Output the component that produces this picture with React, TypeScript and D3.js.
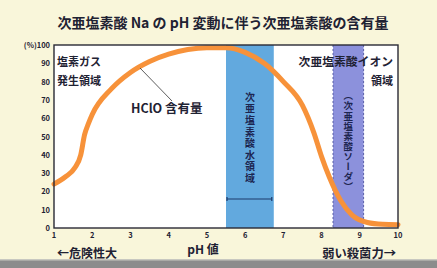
import * as d3 from 'd3';
import { useEffect, useRef } from 'react';

// pH vs HClO content (%)
const PH_VALUES = [1.0, 1.3, 1.55, 1.7, 1.8, 1.9, 2.0, 2.5, 3.0, 3.5, 4.0, 4.5, 5.0, 5.5, 6.0, 6.5, 7.0, 7.5, 7.8, 8.0, 8.2, 8.5, 8.8, 9.2, 9.6, 10.0];
const HCLO_PERCENT = [24, 28, 33, 40, 51, 57, 62, 76, 85, 91, 95, 97.5, 98.5, 98.5, 96, 90, 80, 67, 52, 39, 28, 15, 7, 3, 2, 1.8];

const X_TICKS = [1, 2, 3, 4, 5, 6, 7, 8, 9, 10];
const Y_TICKS = [0, 10, 20, 30, 40, 50, 60, 70, 80, 90, 100];

// shaded regions (pH range)
const WATER_BAND = [5.5, 6.75];
const SODA_BAND = [8.3, 9.1];

const TITLE = '次亜塩素酸 Na の pH 変動に伴う次亜塩素酸の含有量';
const FONT = '"Noto Sans CJK JP", "Noto Sans", sans-serif';
const INK = '#1f2233';

export default function App() {
  const svgRef = useRef<SVGSVGElement>(null);

  useEffect(() => {
    document.body.style.margin = '0';
    if (!svgRef.current) return;
    const W = 437;
    const H = 268;
    const svg = d3.select(svgRef.current);
    svg.selectAll('*').remove();

    const left = 54, right = 398, top = 45, bottom = 228;
    const x = d3.scaleLinear().domain([1, 10]).range([left, right]);
    const y = d3.scaleLinear().domain([0, 100]).range([bottom, top]);

    // background
    svg.append('rect').attr('width', W).attr('height', H).attr('fill', '#f9f6da');
    svg.append('rect').attr('y', 260).attr('width', W).attr('height', 8).attr('fill', '#8c8c8c');
    svg.append('rect').attr('y', 259).attr('width', W).attr('height', 1.5).attr('fill', '#c8c8c0');

    svg
      .append('text')
      .attr('x', 223)
      .attr('y', 28)
      .attr('text-anchor', 'middle')
      .attr('font-family', FONT)
      .attr('font-weight', 'bold')
      .attr('font-size', 14)
      .attr('fill', INK)
      .text(TITLE);

    // plot area
    svg.append('rect').attr('x', left).attr('y', top).attr('width', right - left).attr('height', bottom - top).attr('fill', '#ffffff');

    // bands
    svg
      .append('rect')
      .attr('x', x(WATER_BAND[0]))
      .attr('y', top)
      .attr('width', x(WATER_BAND[1]) - x(WATER_BAND[0]))
      .attr('height', bottom - top)
      .attr('fill', '#62a9de');
    svg
      .append('rect')
      .attr('x', x(SODA_BAND[0]))
      .attr('y', top)
      .attr('width', x(SODA_BAND[1]) - x(SODA_BAND[0]))
      .attr('height', bottom - top)
      .attr('fill', '#8c91dc');
    SODA_BAND.forEach((v) => {
      svg
        .append('line')
        .attr('x1', x(v))
        .attr('x2', x(v))
        .attr('y1', top)
        .attr('y2', bottom)
        .attr('stroke', '#5a5fa8')
        .attr('stroke-width', 1)
        .attr('stroke-dasharray', '2,2');
    });

    // range marker in water band
    const my = 199;
    svg
      .append('line')
      .attr('x1', x(WATER_BAND[0]) + 1)
      .attr('x2', x(WATER_BAND[1]) - 2)
      .attr('y1', my)
      .attr('y2', my)
      .attr('stroke', '#1d3a6a')
      .attr('stroke-width', 1.2);
    [x(WATER_BAND[0]) + 1, x(WATER_BAND[1]) - 2].forEach((px) => {
      svg.append('line').attr('x1', px).attr('x2', px).attr('y1', my - 2).attr('y2', my + 2).attr('stroke', '#1d3a6a').attr('stroke-width', 1.2);
    });

    // vertical band labels
    const vtext = (cx: number, y0: number, str: string, size: number, spacing: number) =>
      svg
        .append('text')
        .attr('x', cx)
        .attr('y', y0)
        .style('writing-mode', 'vertical-rl')
        .style('text-orientation', 'upright')
        .attr('font-family', FONT)
        .attr('font-weight', 'bold')
        .attr('font-size', size)
        .attr('letter-spacing', spacing)
        .attr('fill', '#1c2550')
        .text(str);
    vtext((x(WATER_BAND[0]) + x(WATER_BAND[1])) / 2, 92, '次亜塩素酸水領域', 10, 1.6);
    vtext((x(SODA_BAND[0]) + x(SODA_BAND[1])) / 2, 91, '（次亜塩素酸ソーダ）', 9.5, 0.6);

    // curve
    const pts = PH_VALUES.map((p, i) => [p, HCLO_PERCENT[i]] as [number, number]);
    const line = d3
      .line<[number, number]>()
      .x((d) => x(d[0]))
      .y((d) => y(d[1]))
      .curve(d3.curveMonotoneX);
    svg
      .append('path')
      .attr('d', line(pts) || '')
      .attr('fill', 'none')
      .attr('stroke', '#f7923a')
      .attr('stroke-width', 5)
      .attr('stroke-linecap', 'round');

    // frame
    svg
      .append('rect')
      .attr('x', left)
      .attr('y', top)
      .attr('width', right - left)
      .attr('height', bottom - top)
      .attr('fill', 'none')
      .attr('stroke', '#2a2a35')
      .attr('stroke-width', 1.4);

    // axes labels
    const tickStyle = (t: d3.Selection<SVGTextElement, unknown, null, undefined>) =>
      t.attr('font-family', FONT).attr('font-weight', 'bold').attr('font-size', 7.5).attr('fill', INK);
    Y_TICKS.forEach((v) => {
      tickStyle(
        svg
          .append('text')
          .attr('x', left - 4)
          .attr('y', y(v) + 3)
          .attr('text-anchor', 'end')
          .text(v === 100 ? '(%)100' : String(v))
      );
    });
    X_TICKS.forEach((v) => {
      tickStyle(
        svg
          .append('text')
          .attr('x', x(v))
          .attr('y', 238)
          .attr('text-anchor', 'middle')
          .text(String(v))
      );
    });

    const label = (tx: number, ty: number, str: string, anchor = 'start', size = 11) =>
      svg
        .append('text')
        .attr('x', tx)
        .attr('y', ty)
        .attr('text-anchor', anchor)
        .attr('font-family', FONT)
        .attr('font-weight', 'bold')
        .attr('font-size', size)
        .attr('fill', INK)
        .text(str);

    label(57, 66, '塩素ガス');
    label(57, 85, '発生領域');
    label(393, 66, '次亜塩素酸イオン', 'end', 11.8);
    label(393, 85, '領域', 'end');
    label(131, 113, 'HClO 含有量', 'start', 12.5);
    svg.append('line').attr('x1', 140).attr('y1', 68).attr('x2', 172).attr('y2', 101).attr('stroke', '#333').attr('stroke-width', 0.8);

    label(57, 258, '←危険性大', 'start', 12);
    label(203, 254, 'pH 値', 'middle', 12);
    label(396, 258, '弱い殺菌力→', 'end', 12.3);
  }, []);

  return (
    <div style={{ position: 'absolute', left: 0, top: 0 }}>
      <svg ref={svgRef} width={437} height={268} style={{ display: 'block' }} />
    </div>
  );
}
